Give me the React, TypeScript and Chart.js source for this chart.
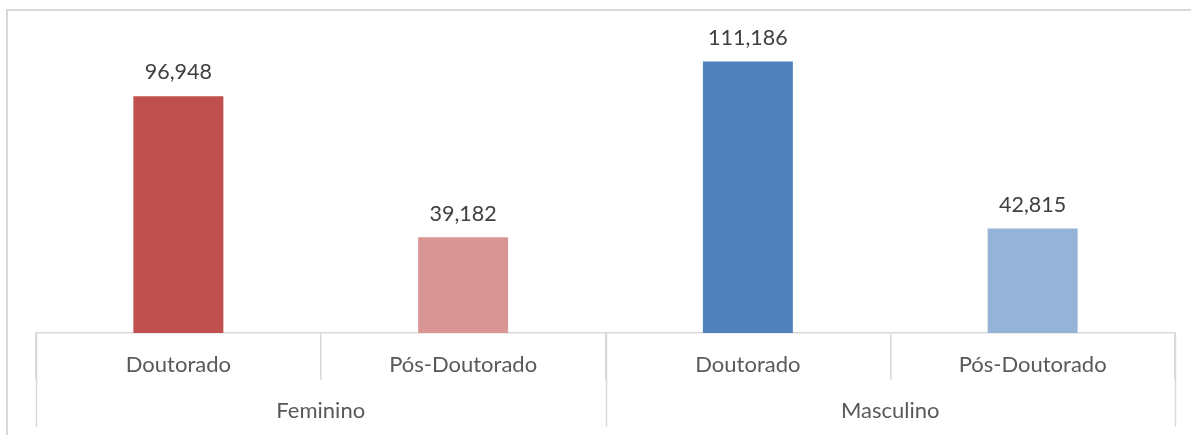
import React, { useEffect, useRef } from "react";
import { Chart, registerables } from "chart.js";

Chart.register(...registerables);

const subCategories = ["Doutorado", "Pós-Doutorado", "Doutorado", "Pós-Doutorado"];
const groupLabels = ["Feminino", "Masculino"];
const groupSizes = [2, 2];
const values = [96948, 39182, 111186, 42815];
const barColors = ["#C0504D", "#D99694", "#4F81BD", "#95B3D7"];
const yMax = 120000;

const FONT = "Lato, 'Open Sans', sans-serif";
const GRID = "#d9d9d9";

const labelsPlugin = {
  id: "customLabels",
  afterDatasetsDraw(chart: any) {
    const ctx = chart.ctx;
    const meta = chart.getDatasetMeta(0);
    ctx.save();
    ctx.fillStyle = "#404040";
    ctx.font = `21.5px ${FONT}`;
    ctx.textAlign = "center";
    ctx.textBaseline = "bottom";
    meta.data.forEach((bar: any, i: number) => {
      ctx.fillText(values[i].toLocaleString("en-US"), bar.x, bar.y - 13);
    });
    ctx.restore();
  },
  afterDraw(chart: any) {
    const ctx = chart.ctx;
    const x = chart.scales.x;
    const half = (x.getPixelForValue(1) - x.getPixelForValue(0)) / 2;
    ctx.save();
    ctx.strokeStyle = GRID;
    ctx.lineWidth = 1.5;
    let idx = 0;
    const bounds: number[] = [x.getPixelForValue(0) - half];
    groupSizes.forEach((n) => {
      idx += n;
      bounds.push(x.getPixelForValue(idx - 1) + half);
    });
    bounds.forEach((bx) => {
      const px = Math.round(bx) + 0.5;
      ctx.beginPath();
      ctx.moveTo(px, x.top);
      ctx.lineTo(px, 427);
      ctx.stroke();
    });
    ctx.fillStyle = "#595959";
    ctx.font = `22px ${FONT}`;
    ctx.textAlign = "center";
    ctx.textBaseline = "middle";
    groupLabels.forEach((g, i) => {
      ctx.fillText(g, (bounds[i] + bounds[i + 1]) / 2, 411);
    });
    ctx.restore();
  },
};

export default function App() {
  const ref = useRef<HTMLCanvasElement>(null);
  useEffect(() => {
    if (!ref.current) return;
    const chart = new Chart(ref.current, {
      type: "bar",
      data: {
        labels: subCategories,
        datasets: [
          {
            data: values,
            backgroundColor: barColors,
            borderWidth: 0,
            barPercentage: 0.316,
            categoryPercentage: 1,
          },
        ],
      },
      options: {
        animation: false,
        responsive: false,
        maintainAspectRatio: false,
        layout: { padding: { left: 36, right: 16, top: 40, bottom: 0 } },
        plugins: { legend: { display: false }, tooltip: { enabled: false } },
        scales: {
          x: {
            grid: {
              offset: true,
              drawOnChartArea: false,
              drawTicks: true,
              tickLength: 47,
              color: GRID,
              lineWidth: 1.5,
            },
            border: { color: GRID, width: 1.5 },
            ticks: {
              color: "#595959",
              font: { family: FONT, size: 22 },
              padding: -28,
              maxRotation: 0,
              autoSkip: false,
            },
            afterFit(scale: any) {
              scale.height = 102;
            },
          },
          y: { display: false, min: 0, max: yMax },
        },
      },
      plugins: [labelsPlugin],
    });
    return () => chart.destroy();
  }, []);
  return (
    <div style={{ position: "fixed", left: 0, top: 0, width: 1191, height: 435, background: "#fff", overflow: "hidden" }}>
      <div
        style={{
          position: "absolute",
          left: 6,
          top: 9,
          width: 1200,
          height: 440,
          border: `2px solid ${GRID}`,
          boxSizing: "border-box",
        }}
      />
      <canvas ref={ref} width={1191} height={435} style={{ position: "absolute", left: 0, top: 0 }} />
    </div>
  );
}
